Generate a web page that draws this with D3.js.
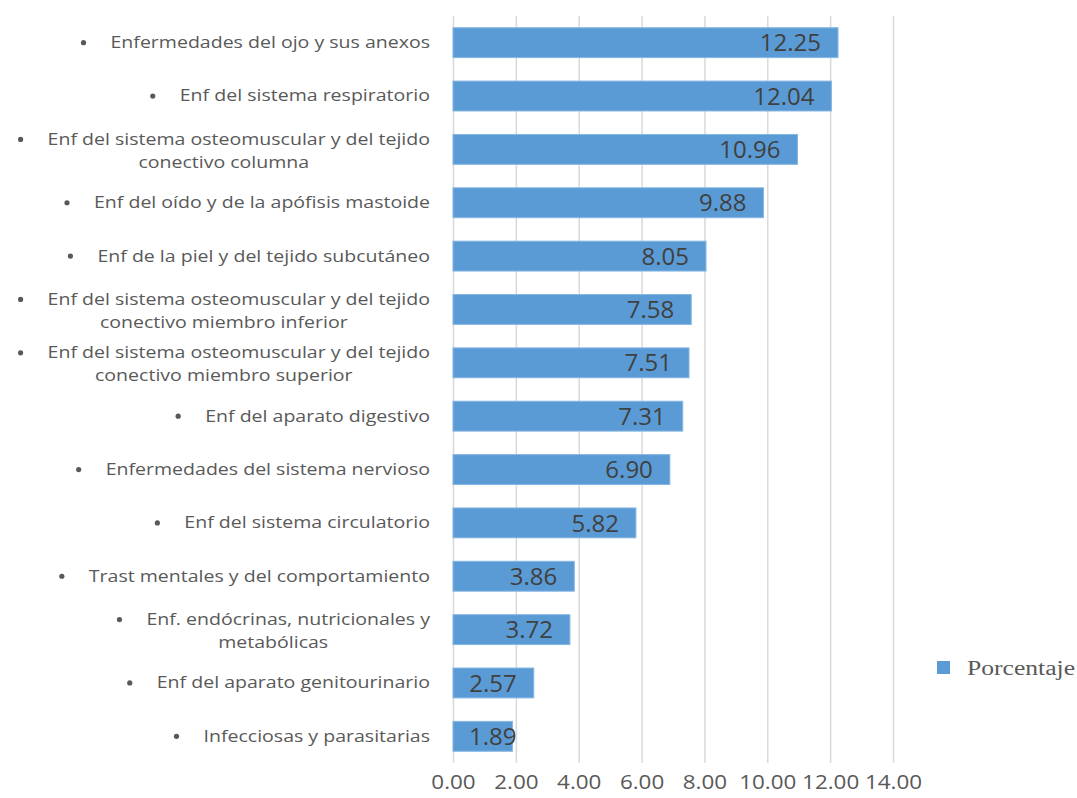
<!DOCTYPE html>
<html>
<head>
<meta charset="utf-8">
<script src="https://cdn.jsdelivr.net/npm/d3@7"></script>
<style>
  html, body { margin: 0; padding: 0; background: #fff; }
  svg { display: block; }
</style>
</head>
<body>
<div id="chart"></div>
<script>
// categories, top to bottom (each entry = lines of the label)
const categories = [
  ["Enfermedades del ojo y sus anexos"],
  ["Enf del sistema respiratorio"],
  ["Enf del sistema osteomuscular y del tejido", "conectivo columna"],
  ["Enf del oído y de la apófisis mastoide"],
  ["Enf de la piel y del tejido subcutáneo"],
  ["Enf del sistema osteomuscular y del tejido", "conectivo miembro inferior"],
  ["Enf del sistema osteomuscular y del tejido", "conectivo miembro superior"],
  ["Enf del aparato digestivo"],
  ["Enfermedades del sistema nervioso"],
  ["Enf del sistema circulatorio"],
  ["Trast mentales y del comportamiento"],
  ["Enf. endócrinas, nutricionales y", "metabólicas"],
  ["Enf del aparato genitourinario"],
  ["Infecciosas y parasitarias"]
];
const porcentaje = [12.25, 12.04, 10.96, 9.88, 8.05, 7.58, 7.51, 7.31, 6.90, 5.82, 3.86, 3.72, 2.57, 1.89];
const xTicks = [0, 2, 4, 6, 8, 10, 12, 14];
const seriesName = "Porcentaje";

const W = 1077, H = 798;
const font = "'Open Sans', sans-serif";
const barColor = "#5b9bd5";

const svg = d3.select("#chart").append("svg")
  .attr("width", W).attr("height", H);

// the original is a bit wide-stretched, so widen texts to match
function stretch(sel, k) {
  sel.each(function() {
    const w = this.getComputedTextLength();
    d3.select(this).attr("textLength", w * k).attr("lengthAdjust", "spacingAndGlyphs");
  });
}

const data = categories.map((c, i) => ({ key: c.join(" "), lines: c, value: porcentaje[i] }));

const x = d3.scaleLinear().domain([0, 14]).range([453, 893]);
const y = d3.scaleBand()
  .domain(data.map(d => d.key))
  .range([16, 763])
  .paddingInner(0.44)
  .paddingOuter(0.22);

// Grid
svg.append("g")
  .attr("transform", "translate(0,16)")
  .call(d3.axisBottom(x).tickValues(xTicks).tickSize(747).tickFormat(""))
  .call(g => g.select(".domain").remove())
  .call(g => g.selectAll("line").attr("stroke", "#d9d9d9").attr("stroke-width", 1.5));

// Tick labels
svg.append("g")
  .attr("transform", "translate(0,763)")
  .call(d3.axisBottom(x).tickValues(xTicks).tickSize(0).tickPadding(12).tickFormat(d3.format(".2f")))
  .call(g => g.select(".domain").remove())
  .call(g => g.selectAll("text")
    .attr("font-family", font).attr("font-size", "20px").attr("fill", "#595959")
    .call(s => stretch(s, 1.12)));

// Bars
svg.selectAll(".bar").data(data).enter().append("rect")
  .attr("class", "bar")
  .attr("x", x(0))
  .attr("y", d => y(d.key))
  .attr("width", d => x(d.value) - x(0))
  .attr("height", y.bandwidth())
  .attr("fill", barColor)
  .attr("stroke", "#86b6e3").attr("stroke-width", 1);

// Value labels (inside end, pushed out when bar is too short)
svg.selectAll(".val").data(data).enter().append("text")
  .attr("class", "val")
  .attr("y", d => y(d.key) + y.bandwidth() / 2)
  .attr("dy", "0.36em")
  .attr("text-anchor", "end")
  .attr("font-family", font).attr("font-size", "24px")
  .attr("fill", "#404040")
  .text(d => d.value.toFixed(2))
  .attr("x", function(d) {
    const w = this.getComputedTextLength();
    return Math.max(x(d.value) - 17, x(0) + 16 + w);
  });

// Category labels: bullet + centred lines, block right-aligned at 430
const labelRight = 430, bulletGap = 30, lineH = 23, k = 1.26;
data.forEach(d => {
  const cy = y(d.key) + y.bandwidth() / 2;
  const g = svg.append("g");
  const n = d.lines.length;
  const lineY = i => cy + (i - (n - 1) / 2) * lineH + (n > 1 ? 1.5 : 0);
  const texts = d.lines.map((ln, i) => g.append("text")
    .attr("font-family", font).attr("font-size", "15.5px").attr("fill", "#595959")
    .attr("text-anchor", "start")
    .attr("y", lineY(i))
    .attr("dy", "0.35em")
    .text(ln));
  const widths = texts.map(t => t.node().getComputedTextLength() * k);
  texts.forEach((t, i) => t.attr("textLength", widths[i]).attr("lengthAdjust", "spacingAndGlyphs"));
  const rowW = widths.map((w, i) => i === 0 ? w + bulletGap : w);
  const blockW = d3.max(rowW);
  const cx = labelRight - blockW / 2;
  texts.forEach((t, i) => t.attr("x", cx - rowW[i] / 2 + (i === 0 ? bulletGap : 0)));
  g.append("circle")
    .attr("cx", cx - rowW[0] / 2 + 3)
    .attr("cy", lineY(0))
    .attr("r", 2.6)
    .attr("fill", "#595959");
});

// Legend
const legend = svg.append("g").attr("transform", "translate(937,661)");
legend.append("rect").attr("width", 13).attr("height", 13).attr("fill", barColor);
legend.append("text")
  .attr("x", 30).attr("y", 6.5).attr("dy", "0.35em")
  .attr("font-family", "'Liberation Serif', 'Times New Roman', serif")
  .attr("font-size", "20px").attr("fill", "#595959")
  .text(seriesName)
  .call(s => stretch(s, 1.28));
</script>
</body>
</html>
